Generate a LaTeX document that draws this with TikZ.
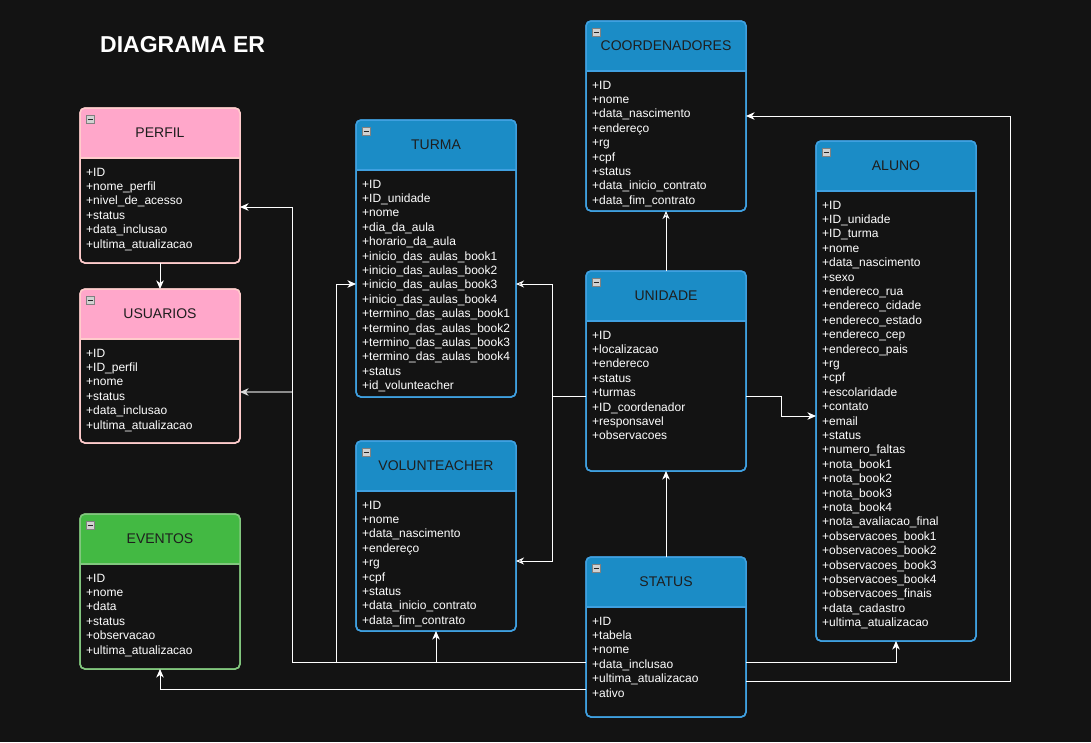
\documentclass[tikz,border=0pt]{standalone}
\usepackage{fontspec}
\setmainfont{Liberation Sans}
\usetikzlibrary{arrows.meta}
\definecolor{bgc}{HTML}{131313}
\definecolor{pinkhead}{HTML}{FFA7CA}
\definecolor{pinkborder}{HTML}{FFCCCC}
\definecolor{greenhead}{HTML}{43B943}
\definecolor{greenborder}{HTML}{82C77E}
\definecolor{bluehead}{HTML}{1B8CC6}
\definecolor{blueborder}{HTML}{3FA0E0}
\definecolor{titletext}{HTML}{1E1E1E}
\tikzset{
  entity/.style={anchor=north west, inner sep=0pt, outer sep=0pt, line width=1.5pt, rounded corners=5pt},
  ttl/.style={font=\fontsize{14}{16}\selectfont, text=titletext, inner sep=0pt},
  flds/.style={anchor=north west, align=left, inner sep=0pt, text=white, font=\fontsize{12}{14.4}\selectfont},
  icon/.style={minimum size=8pt, inner sep=0pt, fill=black!18, draw=black!50, line width=0.6pt},
  conn/.style={draw=white, line width=1pt},
  filledtip/.style={-{Stealth[length=8.5pt, width=7.5pt, inset=2.5pt]}},
  opentip/.style={-{Stealth[open, length=8pt, width=7pt, inset=2.5pt]}}
}
\newcommand{\erentity}[8]{%
  \node[entity, fill=bgc, draw=#6border, minimum width=#4pt, minimum height=#5pt] (#1) at (#2,#3) {};
  \begin{scope}
    \clip[rounded corners=5pt] (#1.north west) rectangle (#1.south east);
    \fill[#6head] (#1.north west) rectangle ([yshift=-50pt]#1.north east);
  \end{scope}
  \draw[#6border, line width=1.5pt] ([yshift=-50pt]#1.north west) -- ([yshift=-50pt]#1.north east);
  \draw[#6border, line width=1.5pt, rounded corners=5pt] (#1.north west) rectangle (#1.south east);
  \node[ttl] (#1-title) at ([yshift=-25pt]#1.north) {#7};
  \node[flds] (#1-fields) at ([xshift=6pt,yshift=-57.8pt]#1.north west) {\strut#8};
  \node[icon] (#1-icon) at ([xshift=10pt,yshift=-11pt]#1.north west) {};
  \draw[black!85, line width=1pt] ([xshift=-2.5pt]#1-icon.center) -- ([xshift=2.5pt]#1-icon.center);
}
\begin{document}
\begin{tikzpicture}[x=1pt, y=-1pt]
\fill[bgc] (0,0) rectangle (1091,742);
\useasboundingbox (0,0) rectangle (1091,742);

\node[font=\bfseries\fontsize{23}{27}\selectfont, text=white, anchor=west, inner sep=0pt] (diagtitle) at (100,45) {DIAGRAMA ER};

\erentity{perfil}{80}{108}{160}{155}{pink}{PERFIL}{+ID\\+nome\_perfil\\+nivel\_de\_acesso\\+status\\+data\_inclusao\\+ultima\_atualizacao}
\erentity{usuarios}{80}{289}{160}{154}{pink}{USUARIOS}{+ID\\+ID\_perfil\\+nome\\+status\\+data\_inclusao\\+ultima\_atualizacao}
\erentity{eventos}{80}{514}{160}{155}{green}{EVENTOS}{+ID\\+nome\\+data\\+status\\+observacao\\+ultima\_atualizacao}
\erentity{turma}{356}{120}{160}{277}{blue}{TURMA}{+ID\\+ID\_unidade\\+nome\\+dia\_da\_aula\\+horario\_da\_aula\\+inicio\_das\_aulas\_book1\\+inicio\_das\_aulas\_book2\\+inicio\_das\_aulas\_book3\\+inicio\_das\_aulas\_book4\\+termino\_das\_aulas\_book1\\+termino\_das\_aulas\_book2\\+termino\_das\_aulas\_book3\\+termino\_das\_aulas\_book4\\+status\\+id\_volunteacher}
\erentity{volunteacher}{356}{441}{160}{190}{blue}{VOLUNTEACHER}{+ID\\+nome\\+data\_nascimento\\+endereço\\+rg\\+cpf\\+status\\+data\_inicio\_contrato\\+data\_fim\_contrato}
\erentity{coord}{586}{21}{160}{190}{blue}{COORDENADORES}{+ID\\+nome\\+data\_nascimento\\+endereço\\+rg\\+cpf\\+status\\+data\_inicio\_contrato\\+data\_fim\_contrato}
\erentity{unidade}{586}{271}{160}{200}{blue}{UNIDADE}{+ID\\+localizacao\\+endereco\\+status\\+turmas\\+ID\_coordenador\\+responsavel\\+observacoes}
\erentity{status}{586}{557}{160}{160}{blue}{STATUS}{+ID\\+tabela\\+nome\\+data\_inclusao\\+ultima\_atualizacao\\+ativo}
\erentity{aluno}{816}{141}{160}{500}{blue}{ALUNO}{+ID\\+ID\_unidade\\+ID\_turma\\+nome\\+data\_nascimento\\+sexo\\+endereco\_rua\\+endereco\_cidade\\+endereco\_estado\\+endereco\_cep\\+endereco\_pais\\+rg\\+cpf\\+escolaridade\\+contato\\+email\\+status\\+numero\_faltas\\+nota\_book1\\+nota\_book2\\+nota\_book3\\+nota\_book4\\+nota\_avaliacao\_final\\+observacoes\_book1\\+observacoes\_book2\\+observacoes\_book3\\+observacoes\_book4\\+observacoes\_finais\\+data\_cadastro\\+ultima\_atualizacao}

% PERFIL -> USUARIOS
\draw[conn, filledtip] (perfil.south -| usuarios.north) -- (usuarios.north);
% STATUS -> PERFIL / USUARIOS / TURMA / VOLUNTEACHER
\draw[conn, filledtip] (status.west |- 0,662) -- (292,662) |- (perfil.east |- 0,207);
\draw[draw=black!45, line width=1.5pt, -{Stealth[length=8.5pt, width=7.5pt, inset=2.5pt, color=white!85!black]}] (292,392) -- (usuarios.east |- 0,392);
\draw[conn, filledtip] (336,662) |- (turma.west |- 0,284);
\draw[conn, filledtip] (volunteacher.south |- 0,662) -- (volunteacher.south);
% STATUS -> EVENTOS
\draw[conn, filledtip] (status.west |- 0,689) -| (eventos.south);
% STATUS -> ALUNO
\draw[conn, filledtip] (status.east |- 0,662) -| (aluno.south);
% STATUS -> COORDENADORES
\draw[conn, filledtip] (status.east |- 0,681) -- (1010,681) |- (coord.east |- 0,116);
% STATUS -> UNIDADE
\draw[conn, filledtip] (status.north) -- (unidade.south);
% UNIDADE -> COORDENADORES
\draw[conn, opentip] (unidade.north) -- (coord.south);
% UNIDADE -> TURMA / VOLUNTEACHER
\draw[conn, opentip] (unidade.west |- 0,396) -- (552,396) |- (turma.east |- 0,284);
\draw[conn, opentip] (552,396) |- (volunteacher.east |- 0,561);
% UNIDADE -> ALUNO
\draw[conn, filledtip] (unidade.east |- 0,396) -- (781,396) |- (aluno.west |- 0,416);
\end{tikzpicture}
\end{document}
